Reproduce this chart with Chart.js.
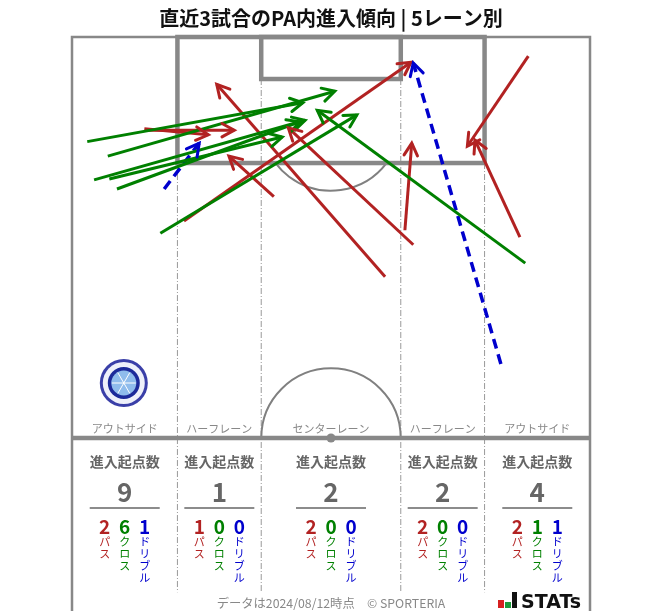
<!DOCTYPE html>
<html>
<head>
<meta charset="utf-8">
<script src="https://cdn.jsdelivr.net/npm/chart.js@4.4.1/dist/chart.umd.min.js"></script>
<style>
  body { margin: 0; background: #fff; }
  #wrap { width: 663px; height: 611px; }
</style>
</head>
<body>
<div id="wrap"><canvas id="pitch" width="663" height="611"></canvas></div>
<script>
// ピッチ座標 (m): x = 左タッチライン 0 〜 68, y = ゴールライン 0 〜 ハーフウェー 52.5
const laneNames = ['アウトサイド', 'ハーフレーン', 'センターレーン', 'ハーフレーン', 'アウトサイド'];
const laneEdges = [0, 13.84, 24.84, 43.16, 54.16, 68];
const totalCounts = [9, 1, 2, 2, 4];
const passCounts = [2, 1, 2, 2, 2];
const crossCounts = [6, 0, 0, 0, 1];
const dribbleCounts = [1, 0, 0, 0, 1];

// パス
const passStart = [[41.1, 31.4], [44.8, 27.2], [43.7, 25.3], [14.7, 24.1], [26.5, 20.9], [59.9, 2.5], [58.8, 26.2], [9.5, 12.0], [9.8, 12.2]];
const passEnd   = [[19.0, 6.2], [28.4, 11.9], [44.6, 13.9], [44.5, 3.3], [20.6, 15.6], [51.9, 14.3], [52.9, 13.5], [17.9, 12.8], [21.3, 12.2]];
// クロス
const crossStart = [[2.0, 13.7], [4.7, 15.6], [2.9, 18.7], [4.9, 18.6], [5.9, 19.9], [11.6, 25.7], [59.5, 29.6]];
const crossEnd   = [[30.3, 8.6], [34.5, 7.1], [30.6, 10.9], [27.6, 13.1], [29.9, 11.1], [37.4, 10.2], [32.2, 9.6]];
// ドリブル
const dribbleStart = [[12.1, 19.9], [56.3, 42.8]];
const dribbleEnd   = [[16.7, 13.9], [44.8, 3.4]];

const RED = '#b22222', GREEN = '#008000', BLUE = '#0000cd';
const LINE = '#888888';
const JP = '"Noto Sans CJK JP", "Noto Sans", sans-serif';

function makeSets(starts, ends, color, dashed) {
    return starts.map((s, i) => ({
        data: [{x: s[0], y: s[1]}, {x: ends[i][0], y: ends[i][1]}],
        borderColor: color,
        borderWidth: dashed ? 3.5 : 3,
        borderDash: dashed ? [10, 6] : [],
        showLine: true,
        pointRadius: 0,
        arrow: true
    }));
}

const datasets = [].concat(
    makeSets(crossStart, crossEnd, GREEN, false),
    makeSets(passStart, passEnd, RED, false),
    makeSets(dribbleStart, dribbleEnd, BLUE, true)
);

const pitchPlugin = {
    id: 'pitch',
    beforeDatasetsDraw(chart) {
        const ctx = chart.ctx;
        const sx = chart.scales.x, sy = chart.scales.y;
        const px = v => sx.getPixelForValue(v);
        const py = v => sy.getPixelForValue(v);
        const unit = px(1) - px(0);
        ctx.save();

        // 外枠
        ctx.strokeStyle = LINE;
        ctx.lineWidth = 2.5;
        ctx.beginPath();
        ctx.moveTo(px(0), py(75.2));
        ctx.lineTo(px(0), py(0));
        ctx.lineTo(px(68), py(0));
        ctx.lineTo(px(68), py(75.2));
        ctx.stroke();

        // レーン区切り (一点鎖線)
        ctx.lineWidth = 1;
        ctx.strokeStyle = '#999';
        ctx.setLineDash([6, 2, 1, 2]);
        [[13.84, 16.5], [24.84, 5.5], [43.16, 5.5], [54.16, 16.5]].forEach(l => {
            ctx.beginPath();
            ctx.moveTo(px(l[0]), py(l[1]));
            ctx.lineTo(px(l[0]), py(72.7));
            ctx.stroke();
        });
        ctx.setLineDash([]);

        // ペナルティアーク・センターサークル
        ctx.strokeStyle = '#808080';
        ctx.lineWidth = 2;
        const r = 9.15 * unit;
        const a = Math.acos((16.5 - 11) / 9.15);
        ctx.beginPath();
        ctx.arc(px(34), py(11), r, Math.PI / 2 - a, Math.PI / 2 + a);
        ctx.stroke();
        ctx.beginPath();
        ctx.arc(px(34), py(52.5), r, Math.PI, 2 * Math.PI);
        ctx.stroke();

        // ペナルティエリア・ゴールエリア・ハーフウェーライン
        ctx.lineWidth = 4.5;
        ctx.strokeStyle = LINE;
        ctx.strokeRect(px(13.84), py(0), px(54.16) - px(13.84), py(16.5) - py(0));
        ctx.strokeRect(px(24.84), py(0), px(43.16) - px(24.84), py(5.5) - py(0));
        ctx.beginPath();
        ctx.moveTo(px(0), py(52.5));
        ctx.lineTo(px(68), py(52.5));
        ctx.stroke();
        ctx.fillStyle = LINE;
        ctx.beginPath();
        ctx.arc(px(34), py(52.5), 4.5, 0, 2 * Math.PI);
        ctx.fill();

        // レーン名
        ctx.fillStyle = '#888';
        ctx.font = '11px ' + JP;
        ctx.textAlign = 'center';
        ctx.textBaseline = 'middle';
        laneNames.forEach((name, i) => {
            ctx.fillText(name, px((laneEdges[i] + laneEdges[i + 1]) / 2), py(51.3));
        });

        // エンブレム
        const ex = px(6.8), ey = py(45.3);
        ctx.fillStyle = '#3a3fa8';
        ctx.beginPath(); ctx.arc(ex, ey, 24, 0, 2 * Math.PI); ctx.fill();
        ctx.fillStyle = '#eef0fa';
        ctx.beginPath(); ctx.arc(ex, ey, 21, 0, 2 * Math.PI); ctx.fill();
        ctx.fillStyle = '#1c2a9a';
        ctx.beginPath(); ctx.arc(ex, ey, 16, 0, 2 * Math.PI); ctx.fill();
        ctx.fillStyle = '#8fbcec';
        ctx.beginPath(); ctx.arc(ex, ey, 12.5, 0, 2 * Math.PI); ctx.fill();
        ctx.strokeStyle = '#ffffff';
        ctx.lineWidth = 1;
        for (let k = 0; k < 6; k++) {
            ctx.beginPath();
            ctx.moveTo(ex, ey);
            ctx.lineTo(ex + 12 * Math.cos(k * Math.PI / 3), ey + 12 * Math.sin(k * Math.PI / 3));
            ctx.stroke();
        }
        ctx.restore();
    },
    afterDatasetsDraw(chart) {
        const ctx = chart.ctx;
        ctx.save();
        chart.data.datasets.forEach((ds, i) => {
            if (!ds.arrow) return;
            const pts = chart.getDatasetMeta(i).data;
            const p1 = pts[0], p2 = pts[1];
            const ang = Math.atan2(p2.y - p1.y, p2.x - p1.x);
            const len = 14, spread = 0.5;
            ctx.strokeStyle = ds.borderColor;
            ctx.lineWidth = 3;
            ctx.lineCap = 'round';
            ctx.setLineDash([]);
            ctx.beginPath();
            ctx.moveTo(p2.x - len * Math.cos(ang - spread), p2.y - len * Math.sin(ang - spread));
            ctx.lineTo(p2.x, p2.y);
            ctx.lineTo(p2.x - len * Math.cos(ang + spread), p2.y - len * Math.sin(ang + spread));
            ctx.stroke();
        });
        ctx.restore();
    },
    afterDraw(chart) {
        const ctx = chart.ctx;
        const sx = chart.scales.x;
        const px = v => sx.getPixelForValue(v);
        ctx.save();
        ctx.textAlign = 'center';
        ctx.textBaseline = 'middle';

        // タイトル
        ctx.fillStyle = '#111';
        ctx.font = 'bold 20px ' + JP;
        ctx.fillText('直近3試合のPA内進入傾向 | 5レーン別', 331, 18);

        // レーン別集計
        laneNames.forEach((name, i) => {
            const cx = px((laneEdges[i] + laneEdges[i + 1]) / 2);
            ctx.fillStyle = '#666';
            ctx.font = 'bold 14px ' + JP;
            ctx.fillText('進入起点数', cx, 462);
            ctx.font = 'bold 26px ' + JP;
            ctx.fillText(String(totalCounts[i]), cx, 492);
            ctx.strokeStyle = '#666';
            ctx.lineWidth = 1.5;
            ctx.beginPath();
            ctx.moveTo(cx - 35, 508);
            ctx.lineTo(cx + 35, 508);
            ctx.stroke();

            const cols = [
                [passCounts[i], 'パス', RED],
                [crossCounts[i], 'クロス', GREEN],
                [dribbleCounts[i], 'ドリブル', BLUE]
            ];
            cols.forEach((c, j) => {
                const x = cx - 20 + j * 20;
                ctx.fillStyle = c[2];
                ctx.font = 'bold 19px ' + JP;
                ctx.fillText(String(c[0]), x, 527);
                ctx.font = '11px ' + JP;
                Array.from(c[1]).forEach((ch, k) => {
                    ctx.fillText(ch, x, 542 + k * 12);
                });
            });
        });

        // フッター
        ctx.fillStyle = '#888';
        ctx.font = '12.3px ' + JP;
        ctx.fillText('データは2024/08/12時点　© SPORTERIA', 331, 603);

        // STATS ロゴ
        ctx.fillStyle = '#d62020'; ctx.fillRect(498, 600, 6, 8);
        ctx.fillStyle = '#1a9a3a'; ctx.fillRect(505, 602, 6, 6);
        ctx.fillStyle = '#111'; ctx.fillRect(512, 592, 5, 16);
        ctx.font = 'bold 19px "DejaVu Sans", sans-serif';
        ctx.textAlign = 'left';
        ctx.textBaseline = 'alphabetic';
        ctx.fillText('STATs', 521, 608);
        ctx.restore();
    }
};

new Chart(document.getElementById('pitch'), {
    type: 'scatter',
    data: { datasets: datasets },
    options: {
        responsive: false,
        animation: false,
        layout: { padding: { left: 72, right: 73, top: 37, bottom: 0 } },
        plugins: { legend: { display: false }, tooltip: { enabled: false } },
        scales: {
            x: { type: 'linear', min: 0, max: 68, display: false },
            y: { type: 'linear', min: 0, max: 75.15, reverse: true, display: false }
        }
    },
    plugins: [pitchPlugin]
});
</script>
</body>
</html>
